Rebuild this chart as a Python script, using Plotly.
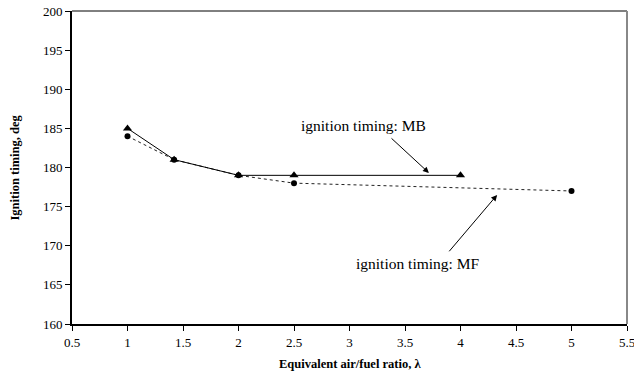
import plotly.graph_objects as go

lam_mb = [1.0, 1.42, 2.0, 2.5, 4.0]
ign_mb = [185, 181, 179, 179, 179]
lam_mf = [1.0, 1.42, 2.0, 2.5, 5.0]
ign_mf = [184, 181, 179, 178, 177]
x_ticks = [0.5, 1, 1.5, 2, 2.5, 3, 3.5, 4, 4.5, 5, 5.5]
y_ticks = [160, 165, 170, 175, 180, 185, 190, 195, 200]

font = "Liberation Serif, Times New Roman, serif"

fig = go.Figure()
fig.add_trace(go.Scatter(x=lam_mf, y=ign_mf, mode="lines+markers",
                         line=dict(color="#222", width=1, dash="dot"),
                         marker=dict(symbol="circle", size=6, color="black"),
                         name="MF", showlegend=False, cliponaxis=False))
fig.add_trace(go.Scatter(x=lam_mb, y=ign_mb, mode="lines+markers",
                         line=dict(color="black", width=1),
                         marker=dict(symbol="triangle-up", size=8, color="black"),
                         name="MB", showlegend=False, cliponaxis=False))

# border top/right
fig.add_shape(type="line", xref="paper", yref="paper", x0=0, x1=1, y0=1, y1=1,
              line=dict(color="black", width=1))
fig.add_shape(type="line", xref="paper", yref="paper", x0=1, x1=1, y0=0, y1=1,
              line=dict(color="#888", width=2))

fig.add_annotation(x=3.13, y=185.4, text="ignition timing: MB", showarrow=False,
                   font=dict(family=font, size=15.5, color="black"))
fig.add_annotation(x=3.716, y=179.3, ax=3.365, ay=183.9, axref="x", ayref="y",
                   text="", showarrow=True, arrowhead=2, arrowsize=1.2, arrowwidth=1,
                   arrowcolor="black")
fig.add_annotation(x=3.617, y=167.7, text="ignition timing: MF", showarrow=False,
                   font=dict(family=font, size=15.5, color="black"))
fig.add_annotation(x=4.33, y=176.5, ax=3.887, ay=169.1, axref="x", ayref="y",
                   text="", showarrow=True, arrowhead=2, arrowsize=1.2, arrowwidth=1,
                   arrowcolor="black")

# axis titles
fig.add_annotation(xref="paper", yref="paper", x=(350 - 72) / 555, y=(324 - 364) / 313,
                   xanchor="center", yanchor="middle",
                   text="<b>Equivalent air/fuel ratio, λ</b>", showarrow=False,
                   font=dict(family=font, size=12.5, color="black"))
fig.add_annotation(xref="paper", yref="paper", x=(14 - 72) / 555, y=0.5,
                   xanchor="center", yanchor="middle",
                   text="<b>Ignition timing, deg</b>", showarrow=False, textangle=-90,
                   font=dict(family=font, size=12.5, color="black"))

fig.update_layout(
    width=634, height=376,
    margin=dict(l=72, r=7, t=11, b=52),
    plot_bgcolor="white", paper_bgcolor="white",
    font=dict(family=font, size=13, color="black"),
    xaxis=dict(range=[0.5, 5.5], tickvals=x_ticks, ticktext=[f"{v:g}" for v in x_ticks],
               automargin=False, ticklabeloverflow="allow",
               showgrid=False, zeroline=False, showline=True, linecolor="black", linewidth=2,
               ticks="outside", ticklen=5, tickcolor="black", tickwidth=1,
               tickfont=dict(family=font, size=13)),
    yaxis=dict(range=[160, 200], tickvals=y_ticks, automargin=False,
               ticklabeloverflow="allow",
               showgrid=False, zeroline=False, showline=True, linecolor="black", linewidth=2,
               ticks="outside", ticklen=5, tickcolor="black", tickwidth=1,
               tickfont=dict(family=font, size=13)),
)

fig.write_html("out.html", config={"displayModeBar": False},
               post_script="document.body.style.margin='0';document.body.style.overflow='hidden';")
